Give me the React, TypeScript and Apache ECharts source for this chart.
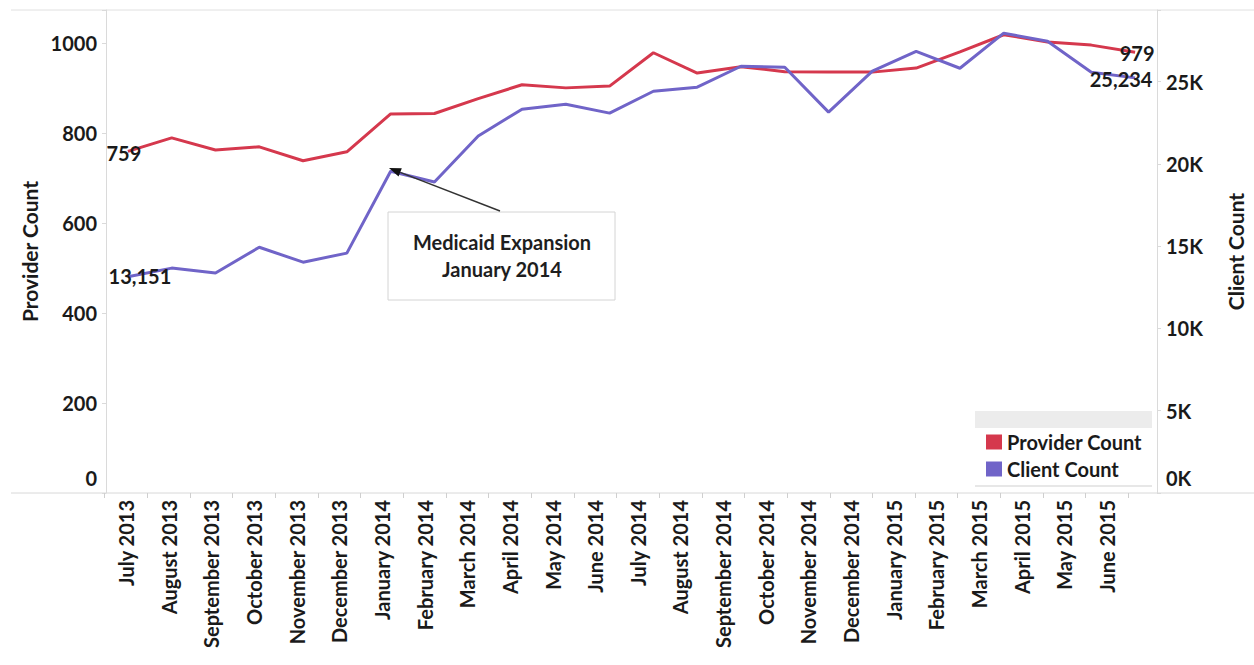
import React, { useEffect, useRef } from "react";
import * as echarts from "echarts";

const months = [
  "July 2013", "August 2013", "September 2013", "October 2013", "November 2013", "December 2013",
  "January 2014", "February 2014", "March 2014", "April 2014", "May 2014", "June 2014",
  "July 2014", "August 2014", "September 2014", "October 2014", "November 2014", "December 2014",
  "January 2015", "February 2015", "March 2015", "April 2015", "May 2015", "June 2015",
];
const providerCount = [759, 789, 762, 769, 738, 758, 842, 843, 876, 907, 900, 904, 978, 933, 947, 936, 935, 935, 944, 980, 1018, 1002, 995, 979];
const clientCount = [13151, 13670, 13370, 14940, 14030, 14580, 19560, 18900, 21700, 23330, 23630, 23090, 24420, 24670, 25940, 25880, 23150, 25640, 26850, 25820, 27950, 27460, 25580, 25234];
const providerTicks = [0, 200, 400, 600, 800, 1000];
const clientTicks = [0, 5000, 10000, 15000, 20000, 25000];

const FONT = "Lato";
const TEXT = "#1a1a1a";
const RED = "#d5384d";
const BLUE = "#7064c8";
const AXIS = "#dadada";

export default function App() {
  const ref = useRef<HTMLDivElement>(null);
  useEffect(() => {
    if (!ref.current) return;
    const chart = echarts.init(ref.current, null, { renderer: "svg" });
    const last = months.length - 1;
    const labelBase = { fontFamily: FONT, fontSize: 20, fontWeight: "bold", color: TEXT };

    // arrow geometry (annotation)
    const tip = [389, 168];
    const tail = [500, 211];
    const dx = tail[0] - tip[0], dy = tail[1] - tip[1];
    const len = Math.sqrt(dx * dx + dy * dy);
    const ux = dx / len, uy = dy / len;
    const bx = tip[0] + ux * 12, by = tip[1] + uy * 12;
    const px = -uy * 4.5, py = ux * 4.5;

    const option: any = {
      animation: false,
      backgroundColor: "#ffffff",
      grid: [
        { left: 106, right: 89, top: 10, bottom: 172 },
        { left: 104.7, width: 1023.6, top: 10, bottom: 172 },
      ],
      xAxis: [
        {
          type: "category", gridIndex: 0, data: months, boundaryGap: true,
          axisLine: { show: false }, axisTick: { show: false }, axisLabel: { show: false },
        },
        {
          type: "category", gridIndex: 1, data: months, boundaryGap: true,
          axisLine: { show: false },
          axisTick: { show: true, length: 5, lineStyle: { color: "#cfcfcf" } },
          axisLabel: { rotate: 90, margin: 7, interval: 0, ...labelBase },
        },
      ],
      yAxis: [
        {
          type: "value", gridIndex: 0, position: "left", min: 0, max: 1073, interval: 200,
          name: "Provider Count", nameLocation: "middle", nameRotate: 90, nameGap: 64,
          nameTextStyle: { fontFamily: FONT, fontSize: 21, fontWeight: "bold", color: TEXT },
          axisLine: { show: true, lineStyle: { color: AXIS } },
          axisTick: { show: true, length: 4, lineStyle: { color: AXIS } },
          splitLine: { show: false },
          axisLabel: {
            margin: 9, ...labelBase,
            formatter: (v: number) => (providerTicks.indexOf(v) < 0 ? "" : v === 0 ? "{z|0}" : String(v)),
            rich: { z: { ...labelBase, padding: [0, 0, 30, 0] } },
          },
        },
        {
          type: "value", gridIndex: 0, position: "right", min: 0, max: 29360, interval: 5000,
          name: "Client Count", nameLocation: "middle", nameRotate: 90, nameGap: 68,
          nameTextStyle: { fontFamily: FONT, fontSize: 21, fontWeight: "bold", color: TEXT },
          axisLine: { show: true, lineStyle: { color: AXIS } },
          axisTick: { show: true, length: 4, lineStyle: { color: AXIS } },
          splitLine: { show: false },
          axisLabel: {
            margin: 9, ...labelBase,
            formatter: (v: number) => (clientTicks.indexOf(v) < 0 ? "" : v === 0 ? "{z|0K}" : v / 1000 + "K"),
            rich: { z: { ...labelBase, padding: [0, 0, 30, 0] } },
          },
        },
        { type: "value", gridIndex: 1, show: false },
      ],
      legend: {
        data: ["Provider Count", "Client Count"],
        orient: "vertical", left: 981, top: 427,
        itemWidth: 16, itemHeight: 15, itemGap: 7, icon: "rect",
        textStyle: { fontFamily: FONT, fontSize: 20, fontWeight: "bold", color: TEXT },
      },
      series: [
        {
          type: "line", name: "Provider Count", xAxisIndex: 0, yAxisIndex: 0,
          data: providerCount.map((v, i) =>
            i === 0 ? { value: v, label: { show: true, offset: [-4, 2] } }
              : i === last ? { value: v, label: { show: true, offset: [2, 1] } } : v),
          symbol: "circle", symbolSize: 0, showSymbol: true,
          lineStyle: { width: 3, color: RED }, itemStyle: { color: RED },
          label: { show: false, position: "inside", ...labelBase },
          z: 2,
        },
        {
          type: "line", name: "Client Count", xAxisIndex: 0, yAxisIndex: 1,
          data: clientCount.map((v, i) =>
            i === 0 ? { value: v, label: { show: true, offset: [12, -1] } }
              : i === last ? { value: v, label: { show: true, offset: [-14, 1] } } : v),
          symbol: "circle", symbolSize: 0, showSymbol: true,
          lineStyle: { width: 3, color: BLUE }, itemStyle: { color: BLUE },
          label: {
            show: false, position: "inside", ...labelBase,
            formatter: (p: any) => Number(p.value).toLocaleString("en-US"),
          },
          z: 3,
        },
      ],
      graphic: [
        { type: "line", shape: { x1: 11, y1: 10, x2: 1254, y2: 10 }, style: { stroke: "#e0e0e0", lineWidth: 1 } },
        { type: "line", shape: { x1: 11, y1: 493, x2: 1254, y2: 493 }, style: { stroke: "#d8d8d8", lineWidth: 1 } },
        { type: "rect", shape: { x: 975, y: 411, width: 177, height: 17 }, style: { fill: "#ececec" } },
        { type: "line", shape: { x1: 975, y1: 486, x2: 1152, y2: 486 }, style: { stroke: "#cfcfcf", lineWidth: 1 } },
        {
          type: "rect", shape: { x: 388, y: 212, width: 227, height: 88 },
          style: { fill: "#ffffff", stroke: "#d4d4d4", lineWidth: 1 }, z: 10,
        },
        {
          type: "text", x: 502, y: 242, z: 11,
          style: { text: "Medicaid Expansion", fontFamily: FONT, fontSize: 20, fontWeight: "bold", fill: "#1e1e1e", align: "center", verticalAlign: "middle" },
        },
        {
          type: "text", x: 502, y: 269, z: 11,
          style: { text: "January 2014", fontFamily: FONT, fontSize: 20, fontWeight: "bold", fill: "#1e1e1e", align: "center", verticalAlign: "middle" },
        },
        {
          type: "line", z: 11, shape: { x1: tail[0], y1: tail[1], x2: bx, y2: by },
          style: { stroke: "#333", lineWidth: 1.5 },
        },
        {
          type: "polygon", z: 11,
          shape: { points: [[tip[0], tip[1]], [bx + px, by + py], [bx - px, by - py]] },
          style: { fill: "#111" },
        },
      ],
    };
    chart.setOption(option);
    return () => chart.dispose();
  }, []);
  return (
    <div
      ref={ref}
      style={{ position: "fixed", left: 0, top: 0, width: 1254, height: 665, background: "#fff" }}
    />
  );
}
